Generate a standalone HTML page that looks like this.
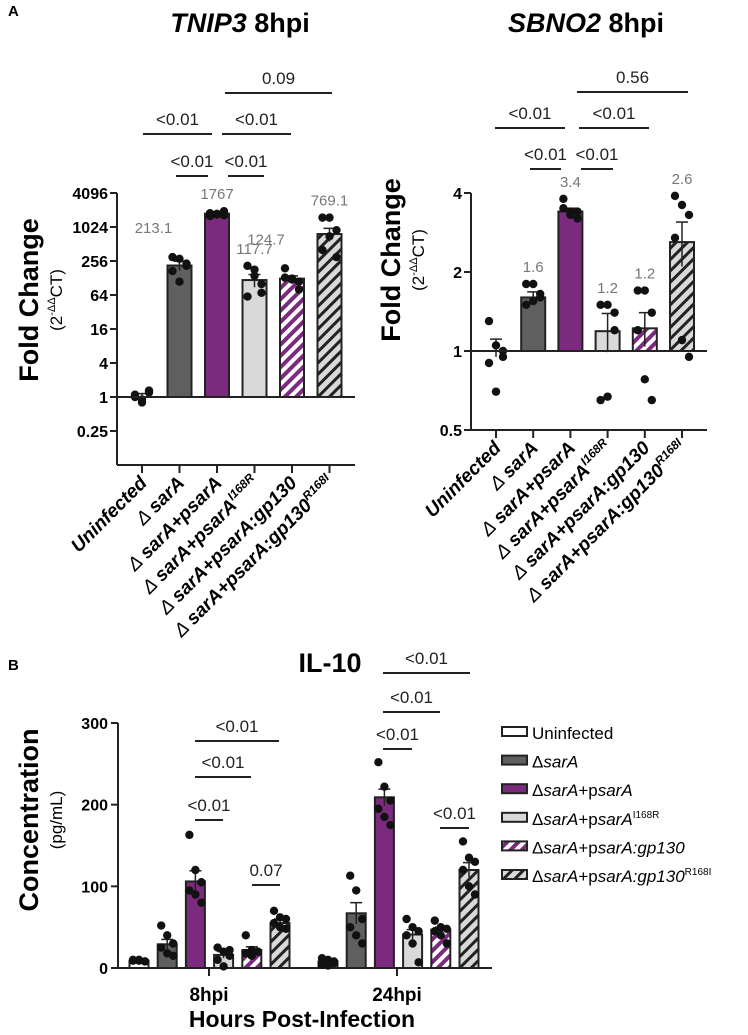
<!DOCTYPE html>
<html><head><meta charset="utf-8"><style>
body{margin:0;background:#fff}
svg{display:block;font-family:"Liberation Sans",Arial,sans-serif}
</style></head><body>
<svg id="fig" width="748" height="1035" viewBox="0 0 748 1035" xmlns="http://www.w3.org/2000/svg">
<defs>
<pattern id="hp" patternUnits="userSpaceOnUse" width="8" height="8" patternTransform="rotate(45)"><rect width="8" height="8" fill="#fff"/><rect width="4" height="8" fill="#7b2a7e"/></pattern>
<pattern id="hg" patternUnits="userSpaceOnUse" width="8" height="8" patternTransform="rotate(45)"><rect width="8" height="8" fill="#d9d9d9"/><rect width="3" height="8" fill="#222"/></pattern>
</defs>
<text x="8" y="16" font-size="15" font-weight="bold">A</text>
<text x="8" y="670" font-size="15" font-weight="bold">B</text>
<text x="240" y="32" font-size="27" font-weight="bold" text-anchor="middle"><tspan font-style="italic">TNIP3</tspan> 8hpi</text>
<text x="586" y="32" font-size="27" font-weight="bold" text-anchor="middle"><tspan font-style="italic">SBNO2</tspan> 8hpi</text>
<text x="330" y="672" font-size="27" font-weight="bold" text-anchor="middle">IL-10</text>
<g id="g"></g>
</svg>
<script>
const groups=["Uninfected","ΔsarA","ΔsarA+psarA","ΔsarA+psarA I168R","ΔsarA+psarA:gp130","ΔsarA+psarA:gp130 R168I"];
const tnipMeans=[1.05,213.1,1767,117.7,124.7,769.1];
const tnipSem=[0.1,40,150,30,15,200];
const tnipPts=[[1.0,0.8,1.2,1.1,0.9,1.3],[300,280,210,170,110,230],[1800,1700,1950,1600,1750,1650],[210,180,70,60,140,100],[190,120,80,130,125,110],[1500,1500,900,400,700,300]];
const tnipTicks=[0.25,1,4,16,64,256,1024,4096];
const tnipValLabels=["","213.1","1767","117.7","124.7","769.1"];
const sbnoMeans=[1.03,1.6,3.4,1.19,1.22,2.6];
const sbnoSem=[0.08,0.08,0.1,0.2,0.18,0.5];
const sbnoPts=[[1.3,1.05,0.95,0.9,0.7,1.0],[1.8,1.8,1.6,1.5,1.55,1.65],[3.8,3.4,3.2,3.5,3.3,3.4],[1.5,1.5,1.4,0.65,0.67,1.2],[1.7,1.7,1.4,1.2,0.78,0.65],[3.9,3.6,3.3,2.7,1.1,0.95]];
const sbnoTicks=[0.5,1,2,4];
const sbnoValLabels=["","1.6","3.4","1.2","1.2","2.6"];
const timepoints=["8hpi","24hpi"];
const il10Means=[[9,29,106,16,22,55],[8,67,209,41,47,120]];
const il10Sem=[[1,6,13,4,4,5],[2,13,10,6,3,9]];
const il10Pts=[[[10,9,8,9,10,8],[52,40,30,25,18,15],[163,120,105,95,90,80],[25,20,15,10,2,22],[40,22,20,18,15,20],[70,62,60,55,50,48]],[[12,10,8,4,3,6],[113,95,60,50,40,30],[252,222,205,195,185,175],[60,50,45,40,30,7],[58,50,48,45,40,30],[155,135,130,120,100,90]]];
const il10Ticks=[0,100,200,300];
const fills=["#fff","#5f5f5f","#7b2a7e","#d9d9d9","url(#hp)","url(#hg)"];
const NS="http://www.w3.org/2000/svg";
const G=document.getElementById('g');
function mk(tag,attrs,parent){const e=document.createElementNS(NS,tag);for(const k in attrs)e.setAttribute(k,attrs[k]);(parent||G).appendChild(e);return e;}
function txt(x,y,s,attrs,name){const e=mk('text',Object.assign({x:x,y:y},attrs));e.textContent=s;


return e;}
function line(x1,y1,x2,y2,w,name){const e=mk('line',{x1:x1,y1:y1,x2:x2,y2:y2,stroke:'#222','stroke-width':w||2});


return e;}
function bracket(x1,x2,y,label){line(x1,y,x2,y,2,'significance-bracket');txt((x1+x2)/2,y-9,label,{'font-size':17,'text-anchor':'middle',fill:'#222'},'p-value-label');}
function dot(x,y){const c=mk('circle',{cx:x,cy:y,r:4.2,fill:'#111'});

}
function bar(x,w,yTop,yBase,fill,name){const r=mk('rect',{x:x-w/2,y:Math.min(yTop,yBase),width:w,height:Math.abs(yBase-yTop),fill:fill,stroke:'#222','stroke-width':2});

}
function err(x,yTop,yBot){line(x,yTop,x,yBot,1.5,'error-bar');line(x-6,yTop,x+6,yTop,1.5,'error-cap');}

function logChart(o){
 const y=v=>o.base-o.ppd*Math.log2(v);
 line(o.ax,y(o.ticks[o.ticks.length-1]),o.ax,o.bottom,2,'y-axis');
 line(o.ax,o.bottom,o.xEnd,o.bottom,2,'x-axis');
 o.ticks.forEach(t=>{const yy=y(t);line(o.ax-7,yy,o.ax,yy,2,'y-tick');txt(o.ax-9,yy+6,String(t),{'font-size':16,'font-weight':'bold','text-anchor':'end'},'y-tick-label');});
 groups.forEach((g,i)=>{const cx=o.x0+i*o.dx;const m=o.means[i];
  if(i>0)bar(cx,24,y(m),o.base,fills[i],'bar-'+i);
  const eTop=y(m+o.sem[i]);
  err(cx,eTop,y(Math.max(m-o.sem[i],m*0.5)));
  o.pts[i].forEach((p,j)=>dot(cx+((j%3)-1)*7,y(p)));
  if(o.vl[i]){const topY=Math.min(eTop,...o.pts[i].map(y));
   const side=o.side&&o.side.includes(i);
   txt(side?cx-26:cx,side?topY-24:topY-12,o.vl[i],{'font-size':15,fill:'#777','text-anchor':'middle'},'mean-value-label');}
  line(cx,o.bottom,cx,o.bottom+8,2,'x-tick');
  const t=mk('text',{transform:`translate(${cx+6},${o.bottom+19}) rotate(-45)`,'font-size':19,'font-weight':'bold','font-style':'italic','text-anchor':'end'});
  
  
  const parts=[["Uninfected"],["Δ ","sarA"],["Δ ","sarA+psarA"],["Δ ","sarA+psarA","I168R"],["Δ ","sarA+psarA:gp130"],["Δ ","sarA+psarA:gp130","R168I"]][i];
  parts.forEach((p,k)=>{const s=mk('tspan',{},t);s.textContent=p;if(k==0&&parts.length>1)s.setAttribute('font-weight','normal');if(k==2){s.setAttribute('font-size','12');s.setAttribute('dy','-8');}});
 });
 line(o.ax,o.base,o.xEnd,o.base,2,'baseline');
}
logChart({ax:117,base:397,ppd:17,bottom:465,xEnd:355,x0:142,dx:37.5,ticks:tnipTicks,means:tnipMeans,sem:tnipSem,pts:tnipPts,vl:tnipValLabels,side:[1,4]});
logChart({ax:471,base:351,ppd:79,bottom:430,xEnd:707,x0:496,dx:37.2,ticks:sbnoTicks,means:sbnoMeans,sem:sbnoSem,pts:sbnoPts,vl:sbnoValLabels,side:[]});
bracket(225,332,93,"0.09");bracket(143,212,134,"<0.01");bracket(222,291,134,"<0.01");bracket(176,208,176,"<0.01");bracket(228,264,176,"<0.01");
bracket(577,688,92,"0.56");bracket(495,565,128,"<0.01");bracket(579,649,128,"<0.01");bracket(530,561,169,"<0.01");bracket(581,613,169,"<0.01");
function ytitle(x,y,main,sub,sup,name){const t=mk('text',{transform:`translate(${x},${y}) rotate(-90)`,'font-size':27,'font-weight':'bold','text-anchor':'middle'});t.textContent=main;


const s=mk('text',{transform:`translate(${x+24},${y}) rotate(-90)`,'font-size':17,'text-anchor':'middle'});s.textContent=sub;
if(sup){const a=mk('tspan',{'font-size':11,dy:-7},s);a.textContent=sup;const b=mk('tspan',{dy:7},s);b.textContent="CT)";}

}
ytitle(38,300,"Fold Change","(2","-ΔΔ","y-axis-title-tnip3");
ytitle(400,260,"Fold Change","(2","-ΔΔ","y-axis-title-sbno2");
ytitle(38,820,"Concentration","(pg/mL)",null,"y-axis-title-il10");

// IL-10
const yB=v=>968-v*0.8167;
line(118,yB(300),118,968,2,'y-axis');line(118,968,492,968,2,'x-axis');
il10Ticks.forEach(t=>{line(111,yB(t),118,yB(t),2,'y-tick');txt(108,yB(t)+6,String(t),{'font-size':16,'font-weight':'bold','text-anchor':'end'},'y-tick-label');});
timepoints.forEach((tp,k)=>{const x0=k==0?139:328;
 il10Means[k].forEach((m,i)=>{const cx=x0+i*28.2;bar(cx,19,yB(m),968,fills[i],'bar-'+tp+'-'+i);err(cx,yB(m+il10Sem[k][i]),yB(m-il10Sem[k][i]));
  il10Pts[k][i].forEach((p,j)=>dot(cx+((j%3)-1)*6,yB(p)));});
 const tx=k==0?209:397;line(tx,968,tx,976,2,'x-tick');txt(tx,1001,tp,{'font-size':19,'font-weight':'bold','text-anchor':'middle'},'x-tick-label');});
txt(302,1027,"Hours Post-Infection",{'font-size':23,'font-weight':'bold','text-anchor':'middle'},'x-axis-title');
bracket(195,279,741,"<0.01");bracket(195,251,777,"<0.01");bracket(195,223,820,"<0.01");bracket(252,280,885,"0.07");
bracket(383,470,673,"<0.01");bracket(383,440,712,"<0.01");bracket(383,412,749,"<0.01");bracket(440,469,828,"<0.01");
// legend
const legend=[["Uninfected"],["Δ","sarA"],["Δ","sarA","+p","sarA"],["Δ","sarA","+p","sarA","I168R"],["Δ","sarA","+p","sarA:gp130"],["Δ","sarA","+p","sarA:gp130","R168I"]];
legend.forEach((parts,i)=>{const y=733+i*28.6;const r=mk('rect',{x:502,y:y-6,width:25,height:9,fill:fills[i],stroke:'#222','stroke-width':2});
 
 
 const t=mk('text',{x:532,y:y+6,'font-size':17});
 
 
 parts.forEach((p,k)=>{const s=mk('tspan',{},t);s.textContent=p;if(k==1||k==3)s.setAttribute('font-style','italic');if(k==4){s.setAttribute('font-size','10');s.setAttribute('dy','-7');}});});
</script>
</body></html>
